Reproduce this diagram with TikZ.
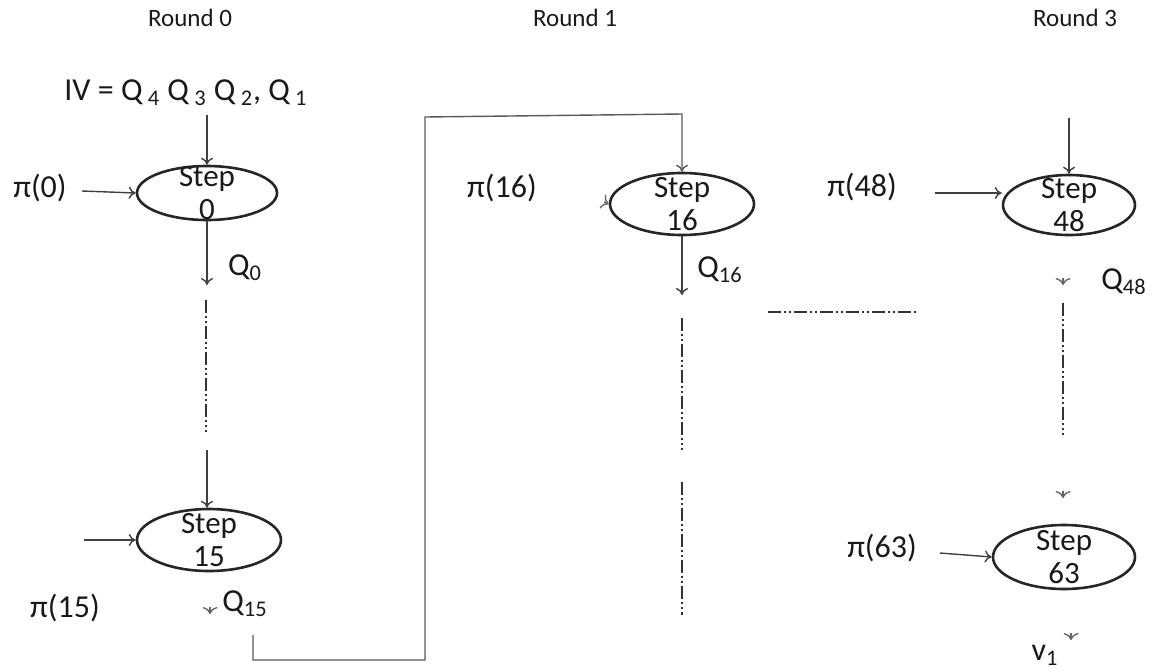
\documentclass[tikz,border=0pt]{standalone}
\usepackage{fontspec}
\setmainfont{Carlito}
\usetikzlibrary{arrows.meta,shapes.geometric}
\begin{document}
\begin{tikzpicture}[x=0.5pt,y=-0.5pt,
  line width=0.7pt,
  arr/.style={draw=black!75, line width=0.7pt, -{To[length=3.5pt,width=6pt]}},
  tip/.style={draw=black!60, line width=0.7pt, -{To[length=3.5pt,width=7.5pt]}},
  stepnode/.style={ellipse, draw=black!85, line width=1.3pt, inner sep=0pt},
  steptxt/.style={align=center, text=black!90, font=\fontsize{15.5}{16.5}\selectfont},
  lbl/.style={font=\fontsize{16}{18}\selectfont, text=black!90},
  roundlbl/.style={font=\fontsize{12.5}{15}\selectfont, text=black!90},
  dd/.style={draw=black!80, line width=1.1pt, dash pattern=on 6.5pt off 1.5pt on 1pt off 1.5pt on 1pt off 1.5pt}
]
\useasboundingbox (0,0) rectangle (1154,670);

% round titles
\node[roundlbl] (r0) at (190,18) {Round 0};
\node[roundlbl] (r1) at (575,18) {Round 1};
\node[roundlbl] (r3) at (1075,18) {Round 3};

% step ellipses
\node[stepnode, minimum width=70pt, minimum height=27pt, label={[steptxt]center:Step\\0}] (s0) at (207,193) {};
\node[stepnode, minimum width=72pt, minimum height=31pt, label={[steptxt]center:Step\\15}] (s15) at (209,540) {};
\node[stepnode, minimum width=72pt, minimum height=31pt, label={[steptxt]center:Step\\16}] (s16) at (682,204) {};
\node[stepnode, minimum width=66pt, minimum height=30pt, label={[steptxt]center:Step\\48}] (s48) at (1069,205) {};
\node[stepnode, minimum width=71pt, minimum height=32pt, label={[steptxt]center:Step\\63}] (s63) at (1064,557) {};

% labels
\node[lbl] (iv) at (186,93) {IV = Q\,\textsubscript{4} Q\,\textsubscript{3} Q\,\textsubscript{2}, Q\,\textsubscript{1}};
\node[lbl] (n0) at (40,188) {π(0)};
\node[lbl] (q0) at (245,268) {Q\textsubscript{0}};
\node[lbl] (n15) at (65,608) {π(15)};
\node[lbl] (q15) at (245,604) {Q\textsubscript{15}};
\node[lbl] (n16) at (502,188) {π(16)};
\node[lbl] (q16) at (720,270) {Q\textsubscript{16}};
\node[lbl] (n48) at (862,187) {π(48)};
\node[lbl] (q48) at (1124,282) {Q\textsubscript{48}};
\node[lbl] (n63) at (882,548) {π(63)};
\node[lbl] (v1) at (1045,655) {v\textsubscript{1}};

% free ends
\coordinate (iva) at (207,115);
\coordinate (n0a) at (82,191);
\coordinate (q0b) at (207,285);
\coordinate (d1a) at (206,300);
\coordinate (d1b) at (206,432);
\coordinate (s15in) at (207,450);
\coordinate (n15a) at (84,540);
\coordinate (t15a) at (210,607);
\coordinate (t15b) at (210,614);
\coordinate (q15b) at (253,635);
\coordinate (k1) at (253,660);
\coordinate (k2) at (425,660);
\coordinate (k3) at (425,117);
\coordinate (k4) at (682,114);
\coordinate (n16a) at (604,202);
\coordinate (q16b) at (682,295);
\coordinate (d2a) at (682,318);
\coordinate (d2b) at (682,450);
\coordinate (d3a) at (682,482);
\coordinate (d3b) at (682,615);
\coordinate (h1) at (768,312);
\coordinate (h2) at (918,312);
\coordinate (n48a) at (935,193);
\coordinate (top48) at (1069,118);
\coordinate (t48a) at (1063,278);
\coordinate (t48b) at (1063,285);
\coordinate (d4a) at (1063,303);
\coordinate (d4b) at (1063,435);
\coordinate (t63a) at (1063,491);
\coordinate (t63b) at (1063,498);
\coordinate (n63a) at (940,553);
\coordinate (tv1a) at (1071,633);
\coordinate (tv1b) at (1071,640);

% connectors
\draw[arr] (iva) -- (s0.north);
\draw[arr] (n0a) -- (s0.west);
\draw[arr] (s0.south) -- (q0b);
\draw[dd] (d1a) -- (d1b);
\draw[arr] (s15in) -- (s15in |- s15.north);
\draw[arr] (n15a) -- (s15.west);
\draw[tip] (t15a) -- (t15b);
\draw[arr, draw=black!65] (q15b) -- (k1) -- (k2) -- (k3) -- (k4) -- (s16.north);
\draw[tip] (n16a) -- (s16.west);
\draw[arr] (s16.south) -- (q16b);
\draw[dd] (d2a) -- (d2b);
\draw[dd] (d3a) -- (d3b);
\draw[dd] (h1) -- (h2);
\draw[arr] (n48a) -- (n48a -| s48.west);
\draw[arr] (top48) -- (s48.north);
\draw[tip] (t48a) -- (t48b);
\draw[dd] (d4a) -- (d4b);
\draw[tip] (t63a) -- (t63b);
\draw[arr] (n63a) -- (s63.west);
\draw[tip] (tv1a) -- (tv1b);
\end{tikzpicture}
\end{document}
